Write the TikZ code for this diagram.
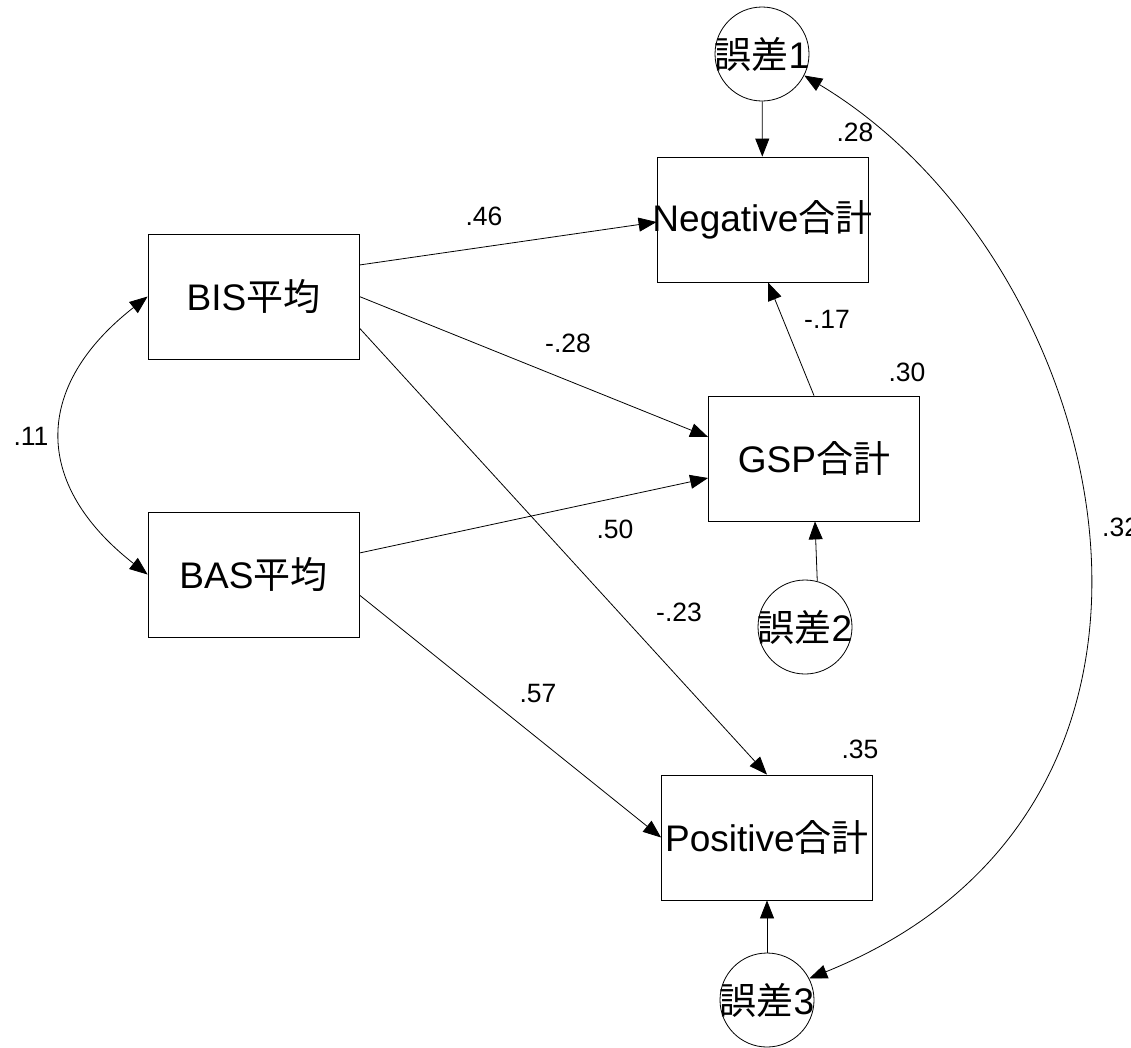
\documentclass[tikz,border=0pt]{standalone}
\usepackage{fontspec}
\setmainfont{Liberation Sans}
\newfontfamily\cjk{Noto Sans CJK JP}
\usetikzlibrary{arrows.meta}
\begin{document}
\begin{tikzpicture}[x=1pt,y=-1pt,
  box/.style={draw, line width=0.8pt, minimum width=211pt, minimum height=125pt, inner sep=0pt, font=\fontsize{37}{40}\selectfont},
  err/.style={draw, circle, line width=0.8pt, minimum size=94pt, inner sep=0pt, font=\fontsize{37}{40}\selectfont},
  link/.style={line width=0.8pt, -{Triangle[length=18pt,width=14pt]}},
  cov/.style={line width=0.8pt, {Triangle[length=18pt,width=14pt]}-{Triangle[length=18pt,width=14pt]}},
  lab/.style={font=\fontsize{26.5}{30}\selectfont, inner sep=0pt}
]
\useasboundingbox (0,0) rectangle (1131,1047);
% variables
\node[box] (bis) at (253.5,296.5) {\makebox[0pt]{BIS{\cjk 平均}}};
\node[box] (bas) at (253.5,574.5) {\makebox[0pt]{BAS{\cjk 平均}}};
\node[box] (neg) at (762.5,219.5) {\makebox[0pt]{Negative{\cjk 合計}}};
\node[box] (gsp) at (814,458.5) {\makebox[0pt]{GSP{\cjk 合計}}};
\node[box] (pos) at (767,837.5) {\makebox[0pt]{Positive{\cjk 合計}}};
% errors
\node[err] (e1) at (762,54) {\makebox[0pt]{{\cjk 誤差}1}};
\node[err] (e2) at (805,627) {\makebox[0pt]{{\cjk 誤差}2}};
\node[err] (e3) at (767,1000) {\makebox[0pt]{{\cjk 誤差}3}};
% paths
\draw[link] (e1) -- (neg);
\draw[link] ([yshift=31.5pt]bis.east) -- ([yshift=-2.5pt]neg.west);
\draw[link] (bis.east) -- ([yshift=21.5pt]gsp.west);
\draw[link] ([yshift=-31.5pt]bis.east) -- (pos.north);
\draw[link] ([yshift=21.5pt]bas.east) -- ([yshift=-19.5pt]gsp.west);
\draw[link] ([yshift=-20.5pt]bas.east) -- (pos.west);
\draw[link] (gsp.north) -- ([xshift=5.5pt]neg.south);
\draw[link] (e2.75) -- ([xshift=1pt]gsp.south);
\draw[link] (e3) -- (pos);
% covariances
\draw[cov] (bis.west) .. controls +(-115,90) and +(-115,-90) .. (bas.west);
\draw[cov] (e1.-27) .. controls +(307,184) and +(436,-176) .. (e3.27);
% labels
\node[lab] (l1) at (855,132) {.28};
\node[lab] (l2) at (484,216) {.46};
\node[lab] (l3) at (568,343) {-.28};
\node[lab] (l4) at (827,319) {-.17};
\node[lab] (l5) at (907,372) {.30};
\node[lab] (l6) at (615,529) {.50};
\node[lab] (l7) at (31,436) {.11};
\node[lab] (l8) at (679,612) {-.23};
\node[lab] (l9) at (538,693) {.57};
\node[lab] (l10) at (860,749) {.35};
\node[lab, anchor=west] (l11) at (1102,527) {.32};
\end{tikzpicture}
\end{document}
